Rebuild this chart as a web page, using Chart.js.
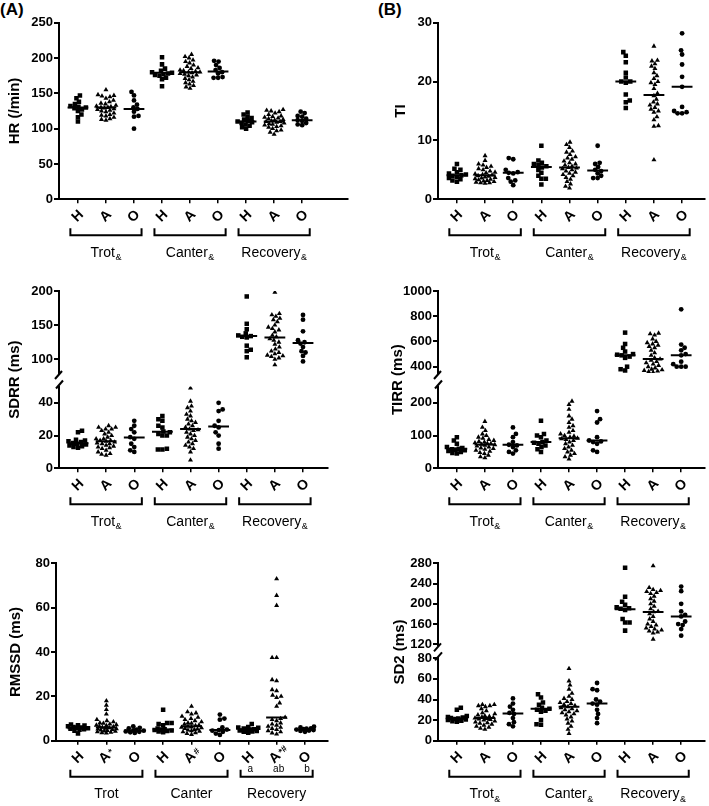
<!DOCTYPE html>
<html>
<head>
<meta charset="utf-8">
<title>HR and HRV dot plots</title>
<script src="https://cdn.jsdelivr.net/npm/chart.js@4.4.1/dist/chart.umd.min.js"></script>
<style>
  html, body { margin: 0; padding: 0; background: #fff; }
  body { position: relative; width: 709px; height: 806px; overflow: hidden; }
  canvas { position: absolute; }
  .tag { position: absolute; font: bold 17px "Liberation Sans", Arial, sans-serif; color: #000; }
</style>
</head>
<body>
<div class="tag" style="left:0px;top:0px">(A)</div>
<div class="tag" style="left:378px;top:0px">(B)</div>
<script>
// groups on the x axis, repeated for each phase
const categories = ['H', 'A', 'O'];
const phases = ['Trot', 'Canter', 'Recovery'];

// each series: [trot, canter, recovery]
// HR (/min)
const hrH = [
  [147, 143, 138, 135, 132, 131, 130, 129, 127, 125, 120, 116, 110],
  [201, 191, 185, 182, 180, 179, 178, 177, 176, 175, 172, 170, 160],
  [123, 120, 117, 115, 113, 111, 110, 109, 108, 106, 104, 102, 100]
];
const hrA = [
  [155, 148, 147, 146, 145, 143, 140, 138, 136, 135, 133, 132, 131, 130, 130, 129, 128, 127, 126, 125, 124, 122, 120, 119, 118, 116, 114, 113, 112],
  [205, 202, 200, 197, 195, 193, 190, 188, 186, 185, 183, 182, 181, 180, 180, 179, 178, 177, 176, 175, 173, 171, 169, 167, 165, 163, 161, 159, 157],
  [127, 126, 125, 124, 122, 120, 118, 117, 116, 115, 114, 113, 112, 111, 110, 110, 109, 108, 107, 106, 105, 104, 103, 102, 100, 98, 97, 95, 92]
];
const hrO = [
  [152, 147, 140, 134, 130, 128, 124, 118, 117, 100],
  [196, 195, 190, 186, 183, 180, 178, 173, 172, 172],
  [124, 122, 118, 117, 114, 112, 111, 108, 106, 105]
];
const hrMed = [130, 130, 128, 179, 180, 181, 110, 110, 112];
const hrTicks = [0, 50, 100, 150, 200, 250];

// TI
const tiH = [
  [6.0, 5.2, 5.0, 4.6, 4.4, 4.2, 4.1, 4.0, 3.8, 3.6, 3.4, 3.2, 3.0],
  [9.1, 6.6, 6.2, 6.0, 5.8, 5.6, 5.4, 5.0, 4.5, 4.0, 3.5, 3.5, 2.5],
  [25.0, 24.4, 23.3, 21.5, 20.7, 20.0, 20.0, 19.8, 17.8, 16.8, 16.5, 15.5]
];
const tiA = [
  [7.4, 6.6, 6.0, 5.8, 5.6, 5.4, 5.2, 5.0, 4.8, 4.6, 4.5, 4.3, 4.2, 4.1, 4.0, 3.9, 3.8, 3.7, 3.6, 3.5, 3.4, 3.3, 3.2, 3.1, 3.0, 2.9, 2.8, 2.8, 2.7],
  [9.7, 9.3, 8.8, 8.2, 8.0, 7.6, 7.2, 7.0, 6.8, 6.5, 6.2, 6.0, 5.8, 5.6, 5.4, 5.3, 5.2, 5.0, 4.8, 4.6, 4.4, 4.2, 4.0, 3.7, 3.4, 3.0, 2.6, 2.2, 1.9],
  [26.0, 23.6, 23.5, 23.0, 22.6, 22.2, 21.5, 21.0, 20.5, 20.0, 19.8, 19.5, 18.8, 18.0, 17.6, 17.0, 16.5, 16.2, 16.0, 15.6, 15.3, 15.0, 14.8, 14.0, 13.5, 12.5, 12.4, 6.7]
];
const tiO = [
  [7.0, 6.8, 5.0, 4.6, 4.5, 4.4, 3.6, 3.2, 3.0, 2.4],
  [9.1, 6.2, 6.0, 5.5, 5.0, 4.8, 4.4, 4.0, 3.6, 3.6],
  [28.2, 25.3, 24.6, 22.9, 20.8, 19.1, 15.7, 15.0, 14.8, 14.6, 14.6]
];
const tiMed = [4.1, 4.1, 4.5, 5.5, 5.4, 4.9, 20.0, 17.7, 19.1];
const tiTicks = [0, 10, 20, 30];

// SDRR (ms)
const sdrrH = [
  [23, 22, 17.5, 17, 16.5, 16, 15.5, 15, 14.5, 14, 13.5, 13, 12.5],
  [32, 30, 29, 26, 25, 22.5, 22, 21, 20, 20, 12, 11.5, 11.5],
  [192, 152, 144, 138, 135, 134, 133, 132, 120, 114, 112, 103]
];
const sdrrA = [
  [26, 25, 25, 24, 24, 23, 22, 21, 20, 19, 18, 18, 17, 17, 16.5, 16, 15.5, 15, 15, 14, 13.5, 13, 12.5, 12, 11, 10, 9, 8.5, 8],
  [49, 41, 38, 37, 35, 33, 32, 30, 29, 28, 27, 26, 25, 24, 23.5, 23, 22, 21, 20, 19, 18, 17, 16, 15, 14, 13, 12, 10, 5],
  [198, 167, 165, 163, 160, 158, 155, 150, 147, 145, 143, 140, 135, 133, 130, 128, 125, 122, 118, 115, 112, 110, 108, 106, 105, 104, 102, 100, 92]
];
const sdrrO = [
  [29, 26, 24, 22, 19, 18, 15, 13, 11, 10],
  [40, 36, 35, 29, 26, 25, 22, 20, 15, 12],
  [165, 158, 141, 128, 125, 123, 118, 112, 110, 105, 97]
];
const sdrrMed = [15.3, 16.5, 18.8, 22.3, 24, 25.5, 134, 132, 124];
const sdrrTicksHigh = [100, 150, 200];
const sdrrTicksLow = [0, 20, 40];

// TIRR (ms)
const tirrH = [
  [95, 85, 75, 65, 62, 60, 58, 57, 55, 53, 50, 47, 45],
  [145, 105, 100, 95, 85, 80, 78, 75, 70, 65, 58, 50],
  [670, 580, 550, 520, 500, 495, 490, 480, 470, 400, 380, 370]
];
const tirrA = [
  [143, 125, 115, 105, 100, 95, 92, 88, 85, 82, 80, 78, 76, 75, 73, 72, 70, 68, 65, 62, 60, 58, 55, 52, 48, 45, 40, 35, 32],
  [205, 195, 180, 160, 150, 140, 130, 125, 115, 110, 105, 100, 98, 95, 92, 90, 88, 85, 80, 75, 70, 65, 60, 55, 50, 45, 40, 35, 28],
  [665, 660, 650, 620, 600, 590, 580, 570, 560, 550, 530, 510, 490, 470, 460, 450, 440, 430, 420, 410, 400, 390, 380, 375, 370, 365, 360, 355]
];
const tirrO = [
  [125, 105, 95, 80, 72, 70, 65, 55, 50, 45],
  [175, 150, 140, 95, 85, 82, 80, 75, 55, 50],
  [855, 575, 550, 530, 500, 490, 440, 420, 400, 400, 400]
];
const tirrMed = [60, 73, 72, 80, 92, 85, 490, 460, 490];
const tirrTicksHigh = [400, 600, 800, 1000];
const tirrTicksLow = [0, 100, 200];

// RMSSD (ms)
const rmssdH = [
  [7.3, 7.0, 6.8, 6.5, 6.2, 6.0, 5.8, 5.6, 5.4, 5.2, 5.0, 4.5, 3.2],
  [14, 8, 8, 7.5, 7, 5.5, 5.2, 5, 4.8, 4.6, 4.4, 4.2, 3.8],
  [7.5, 6.2, 6, 5.8, 5.5, 5.2, 5, 4.8, 4.6, 4.4, 4.2, 4, 3.6]
];
const rmssdA = [
  [18, 16, 14, 12, 9.5, 9, 8.5, 8, 7.8, 7.5, 7.2, 7, 6.8, 6.5, 6.3, 6.0, 5.8, 5.6, 5.4, 5.2, 5.0, 4.8, 4.6, 4.4, 4.2, 4.0, 3.8, 3.6, 3.4],
  [15.5, 13, 12.5, 12, 11, 10.5, 10, 9.5, 9, 8.5, 8, 7.8, 7.5, 7, 6.8, 6.5, 6.2, 6, 5.8, 5.5, 5.2, 5, 4.8, 4.5, 4.2, 4, 3.6, 3.2, 2.8],
  [73, 65.5, 61, 37.5, 37.5, 27.5, 27, 23, 22.5, 20.5, 20, 19.5, 17, 15.5, 10.5, 10, 9.5, 9, 8, 7.5, 7, 6.5, 6, 5.5, 5, 4.5, 4, 3.5, 3]
];
const rmssdO = [
  [6.5, 5.8, 5.5, 5.0, 4.6, 4.5, 4.2, 4.0, 3.8, 3.5],
  [11.8, 10, 9.5, 6, 5, 4.8, 4.5, 4, 3.2, 2.6],
  [6.3, 6, 5.6, 5.4, 5.2, 5, 4.8, 4.6, 4.4, 4]
];
const rmssdMed = [5.6, 6, 4.5, 5, 6.5, 4.8, 5, 10.5, 5];
const rmssdTicks = [0, 20, 40, 60, 80];
const rmssdMarks = ['', '*', '', '', '#', '', '', '*#', ''];
const rmssdLetters = ['', '', '', '', '', '', 'a', 'ab', 'b'];

// SD2 (ms)
const sd2H = [
  [32, 30, 24, 23, 22.5, 22, 21.5, 21, 20.5, 20, 19.5, 19, 18.5],
  [45, 42, 37, 35, 32, 31, 30, 29, 28, 20, 16, 15.5],
  [271, 214, 204, 198, 193, 191, 190, 188, 170, 163, 163, 147]
];
const sd2A = [
  [35, 35, 34, 34, 33, 31, 29, 27, 26, 25, 24, 23.5, 23, 22.5, 22, 21.5, 21, 20.5, 20, 19, 18, 17.5, 17, 16, 15, 14, 13, 12, 11],
  [70, 58, 54, 50, 46, 43, 41, 40, 38, 37, 36, 35, 34, 33, 32, 31, 30, 29, 28, 27, 26, 25, 23, 21, 19, 17, 14, 11, 7],
  [275, 232, 228, 226, 224, 222, 220, 215, 210, 205, 200, 195, 190, 185, 184, 180, 175, 170, 165, 160, 158, 155, 152, 150, 148, 146, 144, 142, 130]
];
const sd2O = [
  [41, 36, 33, 30, 27, 26, 22, 18, 16, 14],
  [56, 50, 49, 40, 38, 36, 35, 30, 26, 22, 17],
  [234, 225, 200, 185, 178, 175, 165, 160, 158, 150, 137]
];
const sd2Med = [21.5, 22, 26.5, 31, 33, 36, 189, 184, 175];
const sd2TicksHigh = [120, 160, 200, 240, 280];
const sd2TicksLow = [0, 20, 40, 60, 80];

const xPositions = [1, 2, 3, 4, 5, 6, 7, 8, 9];

// page layout (px); a broken axis has two segments, top one first
const panels = [
  { left: 0, top: 0, width: 352, height: 270, axisX: 59, rightX: 349, pos1: 78, pos9: 303,
    title: 'HR (/min)', titleX: 15, amp: true, series: [hrH, hrA, hrO], medians: hrMed,
    segs: [{ min: 0, max: 250, topY: 22.7, botY: 199.3, ticks: hrTicks }] },
  { left: 355, top: 0, width: 354, height: 270, axisX: 438, rightX: 706, pos1: 457, pos9: 683,
    title: 'TI', titleX: 401, amp: true, series: [tiH, tiA, tiO], medians: tiMed,
    segs: [{ min: 0, max: 30, topY: 22.7, botY: 199.3, ticks: tiTicks }] },
  { left: 0, top: 270, width: 352, height: 270, axisX: 59, rightX: 328, pos1: 78, pos9: 303,
    title: 'SDRR (ms)', titleX: 15, amp: true, series: [sdrrH, sdrrA, sdrrO], medians: sdrrMed,
    segs: [{ min: 80, max: 200, topY: 291, botY: 373, ticks: sdrrTicksHigh },
           { min: 0, max: 50, topY: 386.5, botY: 468.3, ticks: sdrrTicksLow }] },
  { left: 355, top: 270, width: 354, height: 270, axisX: 438, rightX: 707, pos1: 457, pos9: 683,
    title: 'TIRR (ms)', titleX: 398, amp: true, series: [tirrH, tirrA, tirrO], medians: tirrMed,
    segs: [{ min: 350, max: 1000, topY: 291, botY: 373, ticks: tirrTicksHigh },
           { min: 0, max: 250, topY: 386.5, botY: 468.3, ticks: tirrTicksLow }] },
  { left: 0, top: 540, width: 352, height: 266, axisX: 56, rightX: 328, pos1: 78, pos9: 305,
    title: 'RMSSD (ms)', titleX: 16, amp: false, series: [rmssdH, rmssdA, rmssdO], medians: rmssdMed,
    marks: rmssdMarks, letters: rmssdLetters,
    segs: [{ min: 0, max: 80, topY: 563.3, botY: 740.7, ticks: rmssdTicks }] },
  { left: 355, top: 540, width: 354, height: 266, axisX: 438, rightX: 707, pos1: 457, pos9: 683,
    title: 'SD2 (ms)', titleX: 400, amp: true, series: [sd2H, sd2A, sd2O], medians: sd2Med,
    segs: [{ min: 118, max: 280, topY: 563.3, botY: 645.3, ticks: sd2TicksHigh },
           { min: 0, max: 80, topY: 658.3, botY: 740.7, ticks: sd2TicksLow }] }
];

const FONT = '"Liberation Sans", Arial, sans-serif';
const SHAPES = ['rect', 'triangle', 'circle'];
const RADII = [3.2, 2.9, 2.4];
const DOT = 4.2;       // preferred distance between dot centres (px)
const SPREAD = 10;     // max sideways shift of a dot (px)
const HALF = 0.37;     // half width of the median bar (x units)

const tickList = values => values.map(v => ({ value: v }));

function segFor(segs, v) {
  return segs.find(s => v >= s.min && v <= s.max) || segs[segs.length - 1];
}

// spread dots sideways, Prism style; when the column is full, dots overlap
function swarm(values, segs, k) {
  const ys = values.map(v => {
    const s = segFor(segs, v);
    return s.botY - (v - s.min) * (s.botY - s.topY) / (s.max - s.min);
  });
  const order = ys.map((y, i) => i).sort((a, b) => ys[b] - ys[a]);
  const placed = [];
  const offs = new Array(values.length).fill(0);
  order.forEach((i, n) => {
    const sign = n % 2 ? -1 : 1;
    let best = 0, bestGap = -1;
    for (let s = 0; s * 0.5 <= SPREAD; s++) {
      const cands = s === 0 ? [0] : [sign * s * 0.5, -sign * s * 0.5];
      for (const o of cands) {
        const gap = placed.reduce((m, q) => Math.min(m, Math.hypot(q.o - o, q.y - ys[i])), Infinity);
        if (gap >= DOT) { best = o; bestGap = Infinity; break; }
        if (gap > bestGap + 0.3) { bestGap = gap; best = o; }
      }
      if (bestGap === Infinity) break;
    }
    offs[i] = best;
    placed.push({ o: best, y: ys[i] });
  });
  return offs.map(o => o / k);
}

function makeExtras(p, si) {
  const last = si === p.segs.length - 1;
  return {
    id: 'extras' + si,
    afterDraw(chart) {
      const ctx = chart.ctx, a = chart.chartArea, xs = chart.scales.x;
      ctx.save();
      ctx.strokeStyle = '#000';
      ctx.fillStyle = '#000';
      ctx.lineWidth = 2;

      // axis break marks
      if (p.segs.length > 1) {
        ctx.beginPath();
        if (!last) { ctx.moveTo(a.left - 4, a.bottom + 6); ctx.lineTo(a.left + 3, a.bottom - 2); }
        if (si > 0) { ctx.moveTo(a.left - 3, a.top + 2); ctx.lineTo(a.left + 4, a.top - 6); }
        ctx.stroke();
      }

      if (last) {
        const y0 = a.bottom;
        // rotated group letters
        xPositions.forEach((pos, i) => {
          const x = xs.getPixelForValue(pos);
          const main = categories[i % 3];
          const sup = p.marks ? p.marks[i] : '';
          const shift = sup ? -1.5 : 0;
          ctx.save();
          ctx.translate(x + shift, y0 + 17);
          ctx.rotate(-Math.PI / 4);
          ctx.font = 'bold 14px ' + FONT;
          ctx.textAlign = 'center';
          ctx.textBaseline = 'middle';
          ctx.fillText(main, 0, 0);
          ctx.restore();
          if (sup) {
            ctx.save();
            ctx.translate(x + shift + 5, y0 + 12.5);
            ctx.rotate(-Math.PI / 4);
            ctx.font = 'bold 9px ' + FONT;
            ctx.textAlign = 'left';
            ctx.textBaseline = 'middle';
            ctx.fillText(sup, 0, 0);
            ctx.restore();
          }
          if (p.letters && p.letters[i]) {
            ctx.font = '10px ' + FONT;
            ctx.textAlign = 'center';
            ctx.textBaseline = 'middle';
            ctx.fillText(p.letters[i], x + 2, y0 + 29);
          }
        });

        // brackets and phase names
        phases.forEach((name, ph) => {
          const xa = xs.getPixelForValue(ph * 3 + 1 - 0.27);
          const xb = xs.getPixelForValue(ph * 3 + 3 + 0.27);
          const yb = y0 + 36;
          ctx.beginPath();
          ctx.moveTo(xa, yb - 7);
          ctx.lineTo(xa, yb);
          ctx.lineTo(xb, yb);
          ctx.lineTo(xb, yb - 7);
          ctx.stroke();

          const cx = (xs.getPixelForValue(ph * 3 + 1) + xs.getPixelForValue(ph * 3 + 3)) / 2;
          ctx.font = '14px ' + FONT;
          const w1 = ctx.measureText(name).width;
          let w2 = 0;
          if (p.amp) { ctx.font = '9px ' + FONT; w2 = ctx.measureText('&').width + 0.5; }
          const x0 = cx - (w1 + w2) / 2;
          ctx.textAlign = 'left';
          ctx.textBaseline = 'alphabetic';
          ctx.font = '14px ' + FONT;
          ctx.fillText(name, x0, y0 + 57.5);
          if (p.amp) {
            ctx.font = '9px ' + FONT;
            ctx.fillText('&', x0 + w1 + 0.5, y0 + 61);
          }
        });

        // y title, centred on the whole (possibly broken) axis
        ctx.save();
        ctx.translate(p.titleX - p.left, (p.segs[0].topY + p.segs[si].botY) / 2 - p.top);
        ctx.rotate(-Math.PI / 2);
        ctx.font = 'bold 15px ' + FONT;
        ctx.textAlign = 'center';
        ctx.textBaseline = 'middle';
        ctx.fillText(p.title, 0, 0);
        ctx.restore();
      }
      ctx.restore();
    }
  };
}

function buildPanel(p) {
  const k = (p.pos9 - p.pos1) / 8;
  const xMin = 1 - (p.pos1 - p.axisX) / k;
  const xMax = 9 + (p.rightX - p.pos9) / k;

  // dots per group (H, A, O) across the three phases
  const pts = [[], [], []];
  p.series.forEach((byPhase, g) => {
    byPhase.forEach((vals, ph) => {
      const pos = xPositions[ph * 3 + g];
      const offs = swarm(vals, p.segs, k);
      vals.forEach((v, i) => pts[g].push({ x: pos + offs[i], y: v }));
    });
  });

  p.segs.forEach((seg, si) => {
    const last = si === p.segs.length - 1;
    const h = last ? p.height : Math.ceil(seg.botY - p.top + 14);
    const canvas = document.createElement('canvas');
    canvas.width = p.width;
    canvas.height = h;
    canvas.style.left = p.left + 'px';
    canvas.style.top = p.top + 'px';
    document.body.appendChild(canvas);

    const inSeg = v => v >= seg.min && v <= seg.max;
    const medLine = [];
    p.medians.forEach((m, i) => {
      if (!inSeg(m)) return;
      const pos = xPositions[i];
      medLine.push({ x: pos - HALF, y: m }, { x: pos + HALF, y: m }, { x: pos, y: null });
    });

    const datasets = [{
      data: medLine,
      showLine: true,
      spanGaps: false,
      borderColor: '#000',
      borderWidth: 2,
      pointRadius: 0
    }];
    categories.forEach((c, g) => {
      datasets.push({
        label: c,
        data: pts[g].filter(d => inSeg(d.y)),
        pointStyle: SHAPES[g],
        pointRadius: RADII[g],
        pointBackgroundColor: '#000',
        pointBorderColor: '#000',
        pointBorderWidth: 0
      });
    });

    new Chart(canvas, {
      type: 'scatter',
      data: { datasets },
      options: {
        responsive: false,
        animation: false,
        events: [],
        layout: {
          padding: {
            left: 0,
            right: p.width - (p.rightX - p.left),
            top: seg.topY - p.top,
            bottom: h - (seg.botY - p.top)
          }
        },
        plugins: { legend: { display: false }, tooltip: { enabled: false } },
        scales: {
          x: {
            type: 'linear',
            display: last,
            min: xMin,
            max: xMax,
            bounds: 'data',
            afterBuildTicks: s => { s.ticks = tickList(xPositions); },
            afterFit: s => { s.height = 0; },
            ticks: { display: false },
            grid: { display: true, drawOnChartArea: false, drawTicks: true, tickLength: 4, color: '#000', lineWidth: 1.5 },
            border: { display: true, color: '#000', width: 2 }
          },
          y: {
            type: 'linear',
            min: seg.min,
            max: seg.max,
            bounds: 'data',
            afterBuildTicks: s => { s.ticks = tickList(seg.ticks); },
            afterFit: s => { s.width = p.axisX - p.left; },
            ticks: {
              autoSkip: false,
              color: '#000',
              padding: 1,
              font: { family: FONT, size: 13, weight: 'bold' },
              callback: v => String(v)
            },
            grid: { drawOnChartArea: false, drawTicks: true, tickLength: 5, color: '#000', lineWidth: 2 },
            border: { display: true, color: '#000', width: 2 }
          }
        }
      },
      plugins: [makeExtras(p, si)]
    });
  });
}

panels.forEach(buildPanel);
</script>
</body>
</html>
